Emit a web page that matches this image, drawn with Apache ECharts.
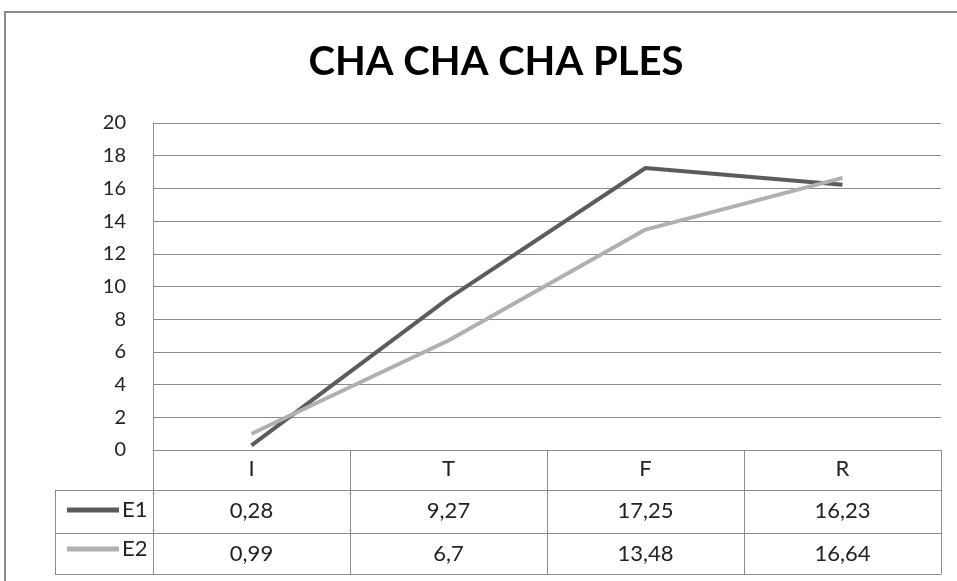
<!DOCTYPE html>
<html><head><meta charset="utf-8">
<script src="https://cdn.jsdelivr.net/npm/echarts@6/dist/echarts.min.js"></script>
<style>html,body{margin:0;padding:0;background:#fff}#c{width:957px;height:581px}</style>
</head><body><div id="c"></div>
<script>
const title = 'CHA CHA CHA PLES';
const categories = ['I', 'T', 'F', 'R'];
const seriesNames = ['E1', 'E2'];
const e1 = [0.28, 9.27, 17.25, 16.23];
const e2 = [0.99, 6.7, 13.48, 16.64];
const yMin = 0, yMax = 20, yStep = 2;

const FONT = 'Lato, "Open Sans", sans-serif';
const GRID = '#8c8c8c';
const TXT = '#222';
const fmt = v => String(v).replace('.', ',');

const chart = echarts.init(document.getElementById('c'));
const tableAxis = (data, offset, tickLen, labelMargin, showLabel) => ({
  type: 'category', data: data, gridIndex: 0, position: 'bottom', offset: offset,
  boundaryGap: true,
  axisLine: {show: true, lineStyle: {color: GRID, width: 1}},
  axisTick: {show: tickLen > 0, length: tickLen, interval: 0, lineStyle: {color: GRID, width: 1}},
  axisLabel: {show: showLabel, interval: 0, margin: labelMargin, fontFamily: FONT, fontSize: 22, color: TXT},
  splitLine: {show: false}
});
chart.setOption({
  animation: false,
  backgroundColor: '#fff',
  title: {text: title, left: 491, textAlign: 'center', top: 37, textStyle: {fontFamily: FONT, fontWeight: 'bold', fontSize: 40, color: '#000'}},
  grid: {left: 153, right: 16, top: 123, bottom: 131, containLabel: false},
  legend: {
    orient: 'vertical', left: 62, top: 494, itemWidth: 52, itemHeight: 5, itemGap: 17,
    icon: 'rect', data: seriesNames,
    textStyle: {fontFamily: FONT, fontSize: 22, color: TXT, padding: [0, 0, 4, -2]}
  },
  xAxis: [
    tableAxis(categories, 0, 40, 8, true),
    tableAxis(e1.map(fmt), 40, 43, 10, true),
    tableAxis(e2.map(fmt), 83, 41, 10, true),
    tableAxis(categories, 124, 0, 0, false)
  ],
  yAxis: {
    type: 'value', min: yMin, max: yMax, interval: yStep,
    axisLine: {show: true, lineStyle: {color: GRID, width: 1}},
    axisTick: {show: false},
    axisLabel: {margin: 27, fontFamily: FONT, fontSize: 20, color: TXT},
    splitLine: {show: true, lineStyle: {color: GRID, width: 1}}
  },
  series: [
    {name: seriesNames[0], type: 'line', data: e1, xAxisIndex: 0, symbol: 'none', color: '#5c5c5c', lineStyle: {width: 4, color: '#5c5c5c'}},
    {name: seriesNames[1], type: 'line', data: e2, xAxisIndex: 0, symbol: 'none', color: '#b0b0b0', lineStyle: {width: 4, color: '#b0b0b0'}}
  ],
  graphic: [
    {type: 'rect', shape: {x: 5, y: 12, width: 1000, height: 700}, style: {fill: 'none', stroke: '#8a8a8a', lineWidth: 2}, silent: true},
    {type: 'line', shape: {x1: 55, y1: 490.5, x2: 153, y2: 490.5}, style: {stroke: GRID, lineWidth: 1}},
    {type: 'line', shape: {x1: 55, y1: 533.5, x2: 153, y2: 533.5}, style: {stroke: GRID, lineWidth: 1}},
    {type: 'line', shape: {x1: 55, y1: 574.5, x2: 153, y2: 574.5}, style: {stroke: GRID, lineWidth: 1}},
    {type: 'line', shape: {x1: 55.5, y1: 490, x2: 55.5, y2: 575}, style: {stroke: GRID, lineWidth: 1}}
  ]
});
</script></body></html>
